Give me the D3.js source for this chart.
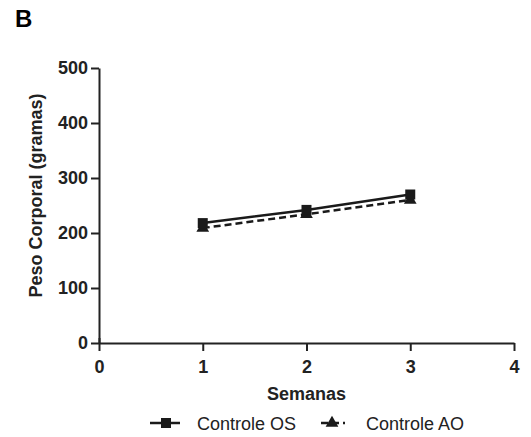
<!DOCTYPE html>
<html>
<head>
<meta charset="utf-8">
<script src="https://cdn.jsdelivr.net/npm/d3@7"></script>
<style>
  html, body { margin: 0; padding: 0; background: #fff; }
  svg { display: block; font-family: "Liberation Sans", Arial, sans-serif; }
</style>
</head>
<body>
<svg id="chart" width="531" height="437"></svg>
<script>
// Body weight (g) per week for each control group
const semanas = [1, 2, 3];
const controleOS = [218, 242, 270];
const controleAO = [209, 234, 260];
const xTicks = [0, 1, 2, 3, 4];
const yTicks = [0, 100, 200, 300, 400, 500];

const svg = d3.select("#chart");
const margin = { left: 99, right: 17, top: 68, bottom: 94 };
const W = 531, H = 437;

const x = d3.scaleLinear().domain([0, 4]).range([margin.left, W - margin.right]);
const y = d3.scaleLinear().domain([0, 500]).range([H - margin.bottom, margin.top]);

// Panel letter
svg.append("text").attr("x", 15).attr("y", 27)
  .attr("font-size", 24).attr("font-weight", "bold").text("B");

// Axes
const xAxis = svg.append("g").attr("transform", `translate(0,${y(0)})`)
  .call(d3.axisBottom(x).tickValues(xTicks).tickFormat(d3.format("d")).tickSize(8).tickSizeOuter(0).tickPadding(9));
const yAxis = svg.append("g").attr("transform", `translate(${x(0)},0)`)
  .call(d3.axisLeft(y).tickValues(yTicks).tickFormat(d3.format("d")).tickSize(8).tickSizeOuter(0).tickPadding(3));

[xAxis, yAxis].forEach(g => {
  g.select(".domain").attr("stroke", "#222").attr("stroke-width", 2);
  g.selectAll(".tick line").attr("stroke", "#222").attr("stroke-width", 2);
  g.selectAll(".tick text").attr("font-size", 18).attr("font-weight", "bold")
    .attr("fill", "#222").attr("font-family", "Liberation Sans, Arial, sans-serif");
});
// x-axis tick at 0 also crosses above the axis line
xAxis.selectAll(".tick").filter(d => d === 0).select("line").attr("y1", -5);

// Axis titles
svg.append("text")
  .attr("transform", `translate(42,${(y(0) + y(500)) / 2 - 10}) rotate(-90)`)
  .attr("text-anchor", "middle").attr("font-size", 18).attr("font-weight", "bold")
  .attr("fill", "#222").text("Peso Corporal (gramas)");
svg.append("text")
  .attr("x", x(2)).attr("y", 400).attr("text-anchor", "middle")
  .attr("font-size", 18).attr("font-weight", "bold").attr("fill", "#222").text("Semanas");

// Series
const line = d3.line().x((d, i) => x(semanas[i])).y(d => y(d));
const tri = d3.symbol().type(d3.symbolTriangle).size(70);

svg.append("path").datum(controleAO).attr("d", line)
  .attr("fill", "none").attr("stroke", "#1a1a1a").attr("stroke-width", 2.5)
  .attr("stroke-dasharray", "7,4");
svg.append("path").datum(controleOS).attr("d", line)
  .attr("fill", "none").attr("stroke", "#1a1a1a").attr("stroke-width", 2.5);

svg.selectAll(".ao").data(controleAO).enter().append("path")
  .attr("class", "ao")
  .attr("transform", (d, i) => `translate(${x(semanas[i])},${y(d)})`)
  .attr("d", tri).attr("fill", "#1a1a1a");
svg.selectAll(".os").data(controleOS).enter().append("rect")
  .attr("class", "os")
  .attr("x", (d, i) => x(semanas[i]) - 5).attr("y", d => y(d) - 5)
  .attr("width", 10).attr("height", 10).attr("fill", "#1a1a1a");

// Legend
const ly = 423;
const leg = svg.append("g");
leg.append("line").attr("x1", 150).attr("x2", 180).attr("y1", ly).attr("y2", ly)
  .attr("stroke", "#1a1a1a").attr("stroke-width", 2.5);
leg.append("rect").attr("x", 161).attr("y", ly - 5).attr("width", 10).attr("height", 10).attr("fill", "#1a1a1a");
leg.append("text").attr("x", 197).attr("y", ly + 7).attr("font-size", 18).attr("fill", "#222").text("Controle OS");

leg.append("line").attr("x1", 321).attr("x2", 345).attr("y1", ly).attr("y2", ly)
  .attr("stroke", "#1a1a1a").attr("stroke-width", 2.5).attr("stroke-dasharray", "7,4");
leg.append("path").attr("transform", `translate(332,${ly})`).attr("d", tri).attr("fill", "#1a1a1a");
leg.append("text").attr("x", 366).attr("y", ly + 7).attr("font-size", 18).attr("fill", "#222").text("Controle AO");
</script>
</body>
</html>
